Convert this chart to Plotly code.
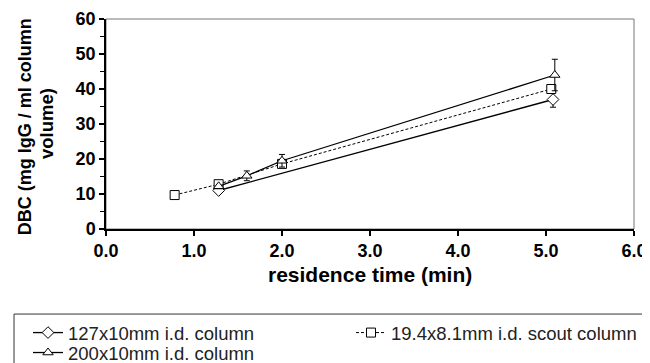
import plotly.graph_objects as go

# Data
d_x = [1.28, 5.08]
d_y = [11.0, 37.0]
d_err = [0.0, 2.2]

s_x = [0.78, 1.28, 2.0, 5.06]
s_y = [9.7, 12.8, 18.6, 40.0]

t_x = [1.28, 1.6, 2.0, 5.1]
t_y = [12.2, 15.2, 19.5, 44.0]
t_err = [0.0, 1.4, 1.8, 4.5]

names = ["127x10mm i.d. column", "19.4x8.1mm i.d. scout column", "200x10mm i.d. column"]

x_ticks = [0, 1, 2, 3, 4, 5, 6]
x_labels = ["0.0", "1.0", "2.0", "3.0", "4.0", "5.0", "6.0"]
y_ticks = [0, 10, 20, 30, 40, 50, 60]

FONT = "Liberation Sans, Arial"

fig = go.Figure()
mk = dict(color="white", size=9, line=dict(color="black", width=1))
fig.add_trace(go.Scatter(
    x=d_x, y=d_y, name=names[0], mode="lines+markers", legend="legend",
    line=dict(color="black", width=1.3),
    marker=dict(symbol="diamond", **mk),
    error_y=dict(type="data", array=d_err, color="black", thickness=1, width=3),
))
fig.add_trace(go.Scatter(
    x=s_x, y=s_y, name=names[1], mode="lines+markers", legend="legend2",
    line=dict(color="black", width=1, dash="3px,2px"),
    marker=dict(symbol="square", **mk),
))
fig.add_trace(go.Scatter(
    x=t_x, y=t_y, name=names[2], mode="lines+markers", legend="legend3",
    line=dict(color="black", width=1.3),
    marker=dict(symbol="triangle-up", **mk),
    error_y=dict(type="data", array=t_err, color="black", thickness=1, width=3),
))

leg_common = dict(yanchor="top", xanchor="left", bgcolor="rgba(0,0,0,0)",
                  borderwidth=0, font=dict(size=18.5, color="#222", family=FONT),
                  tracegroupgap=0, itemwidth=30, orientation="v")

fig.update_layout(
    width=642, height=355,
    margin=dict(l=98, r=16, t=11, b=134, autoexpand=False),
    plot_bgcolor="white", paper_bgcolor="white",
    font=dict(family=FONT, color="black", size=14),
    showlegend=True,
    legend=dict(x=-0.1477, y=-0.405, **leg_common),
    legend2=dict(x=0.464, y=-0.405, **leg_common),
    legend3=dict(x=-0.1477, y=-0.500, **leg_common),
    shapes=[
        dict(type="rect", xref="paper", yref="paper", x0=0, y0=0, x1=1, y1=1,
             line=dict(color="#777", width=1), layer="below"),
        dict(type="rect", xref="paper", yref="paper", x0=-0.1742, y0=-0.405, x1=1.05, y1=-0.70,
             line=dict(color="#333", width=1)),
    ],
    annotations=[
        dict(text="<b>DBC (mg IgG / ml column</b>", xref="paper", yref="paper",
             x=-0.1534, y=0.485, xanchor="center", yanchor="middle", textangle=-90,
             showarrow=False, font=dict(size=18, family=FONT, color="black")),
        dict(text="<b>volume)</b>", xref="paper", yref="paper",
             x=-0.1136, y=0.5, xanchor="center", yanchor="middle", textangle=-90,
             showarrow=False, font=dict(size=18.5, family=FONT, color="black")),
        dict(text="<b>residence time (min)</b>", xref="paper", yref="paper",
             x=0.5, y=-0.215, xanchor="center", yanchor="middle",
             showarrow=False, font=dict(size=21, family=FONT, color="black")),
    ],
)
fig.update_xaxes(
    range=[0, 6], tickvals=x_ticks, ticktext=x_labels, automargin=False,
    showgrid=False, zeroline=False, showline=True, linecolor="black", linewidth=1.5,
    ticks="outside", ticklen=5, tickwidth=1.5, tickcolor="black",
    tickfont=dict(size=18, family=FONT, weight="bold"),
)
fig.update_yaxes(
    range=[0, 60], tickvals=y_ticks, automargin=False,
    showgrid=False, zeroline=False, showline=True, linecolor="black", linewidth=1.5,
    ticks="outside", ticklen=5, tickwidth=1.5, tickcolor="black",
    minor=dict(dtick=5, ticks="outside", ticklen=4, tickcolor="black", tickwidth=1),
    tickfont=dict(size=18, family=FONT, weight="bold"),
)

fig.write_html("out.html")
